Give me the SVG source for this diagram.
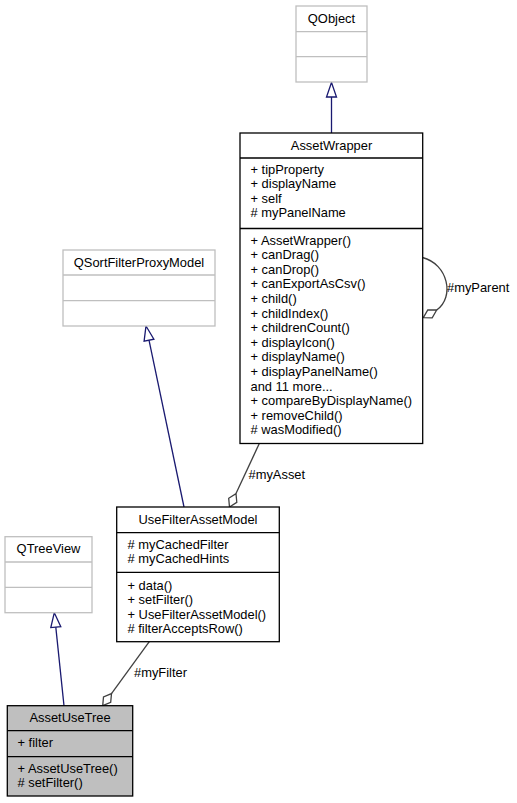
<svg xmlns="http://www.w3.org/2000/svg" width="517" height="803" viewBox="0 0 517 803">
<style>
text{font-family:"Liberation Sans",Arial,Helvetica,sans-serif;font-size:12.9px;fill:#000}
.t{text-anchor:middle}
.ext{fill:#fff;stroke:#bfbfbf;stroke-width:1.3}
.box{fill:#fff;stroke:#000;stroke-width:1.3}
.cur{fill:#bfbfbf;stroke:#000;stroke-width:1.3}
.sepx{stroke:#bfbfbf;stroke-width:1.3}
.sep{stroke:#000;stroke-width:1.3}
.inh{fill:none;stroke:#191970;stroke-width:1.3}
.inhh{fill:#fff;stroke:#191970;stroke-width:1.3}
.use{fill:none;stroke:#404040;stroke-width:1.3}
.useh{fill:#fff;stroke:#404040;stroke-width:1.3}
</style>
<rect width="517" height="803" fill="#fff"/>
<g id="edges">
<line class="inh" x1="331.5" y1="97" x2="331.5" y2="133"/>
<polygon class="inhh" points="331.5,82.5 326.5,97 336.5,97"/>
<line class="inh" x1="184" y1="507" x2="149" y2="340.2"/>
<polygon class="inhh" points="146,326 153.9,339.2 144.1,341.2"/>
<line class="inh" x1="64" y1="705.7" x2="55.8" y2="627.1"/>
<polygon class="inhh" points="54.3,612.7 60.8,626.6 50.8,627.6"/>
<path class="use" d="M422.5,257.5 C448,264 455,297 436.7,310"/>
<polygon class="useh" points="423.3,317.7 432.2,317.8 436.7,310 427.8,310"/>
<text x="447" y="291.5">#myParent</text>
<line class="use" x1="259.3" y1="443.5" x2="236" y2="493.6"/>
<polygon class="useh" points="229.5,507 236.8,502.3 236,493.6 228.7,498.3"/>
<text x="248.5" y="479">#myAsset</text>
<line class="use" x1="149.3" y1="641.7" x2="111.5" y2="693.6"/>
<polygon class="useh" points="102.7,705.7 110.7,702.3 111.5,693.6 103.5,697"/>
<text x="134" y="677">#myFilter</text>
</g>
<g id="QObject">
<rect class="ext" x="296" y="6" width="71" height="76"/>
<line class="sepx" x1="296" y1="31.7" x2="367" y2="31.7"/>
<line class="sepx" x1="296" y1="56.7" x2="367" y2="56.7"/>
<text class="t" x="331.5" y="23">QObject</text>
</g>
<g id="AssetWrapper">
<rect class="box" x="240" y="133" width="182.7" height="310.5"/>
<line class="sep" x1="240" y1="158" x2="422.7" y2="158"/>
<line class="sep" x1="240" y1="228.5" x2="422.7" y2="228.5"/>
<text class="t" x="331.5" y="149.5">AssetWrapper</text>
<text x="250.5" y="173.8">+ tipProperty</text>
<text x="250.5" y="188.3">+ displayName</text>
<text x="250.5" y="202.8">+ self</text>
<text x="250.5" y="217.3"># myPanelName</text>
<text x="250.5" y="244.5">+ AssetWrapper()</text>
<text x="250.5" y="259.1">+ canDrag()</text>
<text x="250.5" y="273.7">+ canDrop()</text>
<text x="250.5" y="288.3">+ canExportAsCsv()</text>
<text x="250.5" y="302.9">+ child()</text>
<text x="250.5" y="317.5">+ childIndex()</text>
<text x="250.5" y="332.1">+ childrenCount()</text>
<text x="250.5" y="346.7">+ displayIcon()</text>
<text x="250.5" y="361.3">+ displayName()</text>
<text x="250.5" y="375.9">+ displayPanelName()</text>
<text x="250.5" y="390.5">and 11 more...</text>
<text x="250.5" y="405.1">+ compareByDisplayName()</text>
<text x="250.5" y="419.7">+ removeChild()</text>
<text x="250.5" y="434.3"># wasModified()</text>
</g>
<g id="QSortFilterProxyModel">
<rect class="ext" x="63" y="250" width="152" height="76"/>
<line class="sepx" x1="63" y1="275" x2="215" y2="275"/>
<line class="sepx" x1="63" y1="300.7" x2="215" y2="300.7"/>
<text class="t" x="139" y="267">QSortFilterProxyModel</text>
</g>
<g id="UseFilterAssetModel">
<rect class="box" x="116.7" y="507" width="162.6" height="134.7"/>
<line class="sep" x1="116.7" y1="532.7" x2="279.3" y2="532.7"/>
<line class="sep" x1="116.7" y1="572.3" x2="279.3" y2="572.3"/>
<text class="t" x="198" y="523.5">UseFilterAssetModel</text>
<text x="127.5" y="548.8"># myCachedFilter</text>
<text x="127.5" y="563.2"># myCachedHints</text>
<text x="127.5" y="589.5">+ data()</text>
<text x="127.5" y="604">+ setFilter()</text>
<text x="127.5" y="618.5">+ UseFilterAssetModel()</text>
<text x="127.5" y="633"># filterAcceptsRow()</text>
</g>
<g id="QTreeView">
<rect class="ext" x="5" y="536.7" width="87" height="76"/>
<line class="sepx" x1="5" y1="562" x2="92" y2="562"/>
<line class="sepx" x1="5" y1="587.3" x2="92" y2="587.3"/>
<text class="t" x="48.5" y="553.3">QTreeView</text>
</g>
<g id="AssetUseTree">
<rect class="cur" x="7.3" y="705.7" width="125.4" height="90.3"/>
<line class="sep" x1="7.3" y1="730.7" x2="132.7" y2="730.7"/>
<line class="sep" x1="7.3" y1="756.7" x2="132.7" y2="756.7"/>
<text class="t" x="70" y="722">AssetUseTree</text>
<text x="17.5" y="746.8">+ filter</text>
<text x="17.5" y="772.8">+ AssetUseTree()</text>
<text x="17.5" y="787.2"># setFilter()</text>
</g>
</svg>
